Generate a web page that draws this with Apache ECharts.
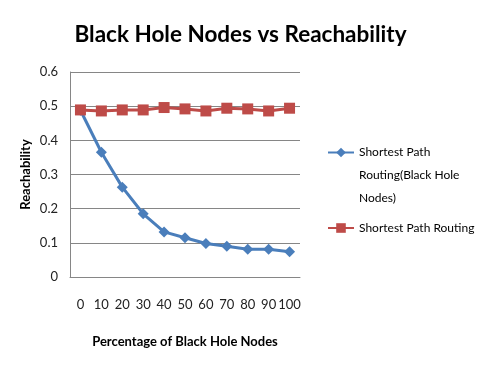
<!DOCTYPE html>
<html><head><meta charset="utf-8">
<script src="https://cdn.jsdelivr.net/npm/echarts@6/dist/echarts.min.js"></script>
<style>html,body{margin:0;padding:0;background:#fff}#c{width:481px;height:368px}</style>
</head><body><div id="c"></div>
<script>
var categories = ['0','10','20','30','40','50','60','70','80','90','100'];
var blackHole = [0.488,0.365,0.263,0.185,0.132,0.115,0.098,0.090,0.081,0.081,0.074];
var shortest = [0.489,0.486,0.489,0.489,0.496,0.492,0.486,0.494,0.492,0.486,0.494];
var yTicks = [0,0.1,0.2,0.3,0.4,0.5,0.6];
var seriesNames = ['Shortest Path Routing(Black Hole Nodes)','Shortest Path Routing'];
var FONT = 'Lato';
var chart = echarts.init(document.getElementById('c'));
chart.setOption({
  animation:false,
  backgroundColor:'#fff',
  title:{text:'Black Hole Nodes vs Reachability',left:'center',top:18,
    textStyle:{fontFamily:FONT,fontWeight:'bold',fontSize:22.5,color:'#000'}},
  grid:{left:70,right:181,top:72,bottom:91,containLabel:false},
  xAxis:{type:'category',data:categories,boundaryGap:true,
    name:'Percentage of Black Hole Nodes',nameLocation:'middle',nameGap:58,
    nameTextStyle:{fontFamily:FONT,fontWeight:'bold',fontSize:13,color:'#000'},
    axisLine:{show:true,lineStyle:{color:'#868686'}},axisTick:{show:false},
    axisLabel:{fontFamily:FONT,fontSize:13,color:'#222',margin:21,interval:0}},
  yAxis:{type:'value',min:yTicks[0],max:yTicks[yTicks.length-1],interval:0.1,
    name:'Reachability',nameLocation:'middle',nameGap:38,nameRotate:90,
    nameTextStyle:{fontFamily:FONT,fontWeight:'bold',fontSize:13,color:'#000'},
    axisLine:{show:true,lineStyle:{color:'#868686'}},axisTick:{show:false},
    splitLine:{lineStyle:{color:'#868686'}},
    axisLabel:{fontFamily:FONT,fontSize:13,color:'#222',margin:12,
      formatter:function(v){return v===0?'0':v.toFixed(1);}}},
  legend:[{data:[seriesNames[0]],orient:'vertical',left:322,top:90,itemWidth:26,itemHeight:12,
    formatter:function(){return '\n\nShortest Path\nRouting(Black Hole\nNodes)';},
    textStyle:{fontFamily:FONT,fontSize:12,color:'#000',lineHeight:23}},
   {data:[seriesNames[1]],orient:'vertical',left:322,top:217,itemWidth:26,itemHeight:12,
    textStyle:{fontFamily:FONT,fontSize:12,color:'#000'}}],
  series:[
    {name:seriesNames[0],type:'line',data:blackHole,symbol:'diamond',symbolSize:11,
     itemStyle:{color:'#4A7EBB'},lineStyle:{width:3,color:'#4A7EBB'}},
    {name:seriesNames[1],type:'line',data:shortest,symbol:'rect',symbolSize:11,
     itemStyle:{color:'#BE4B48'},lineStyle:{width:3,color:'#BE4B48'}}
  ]
});
</script></body></html>
